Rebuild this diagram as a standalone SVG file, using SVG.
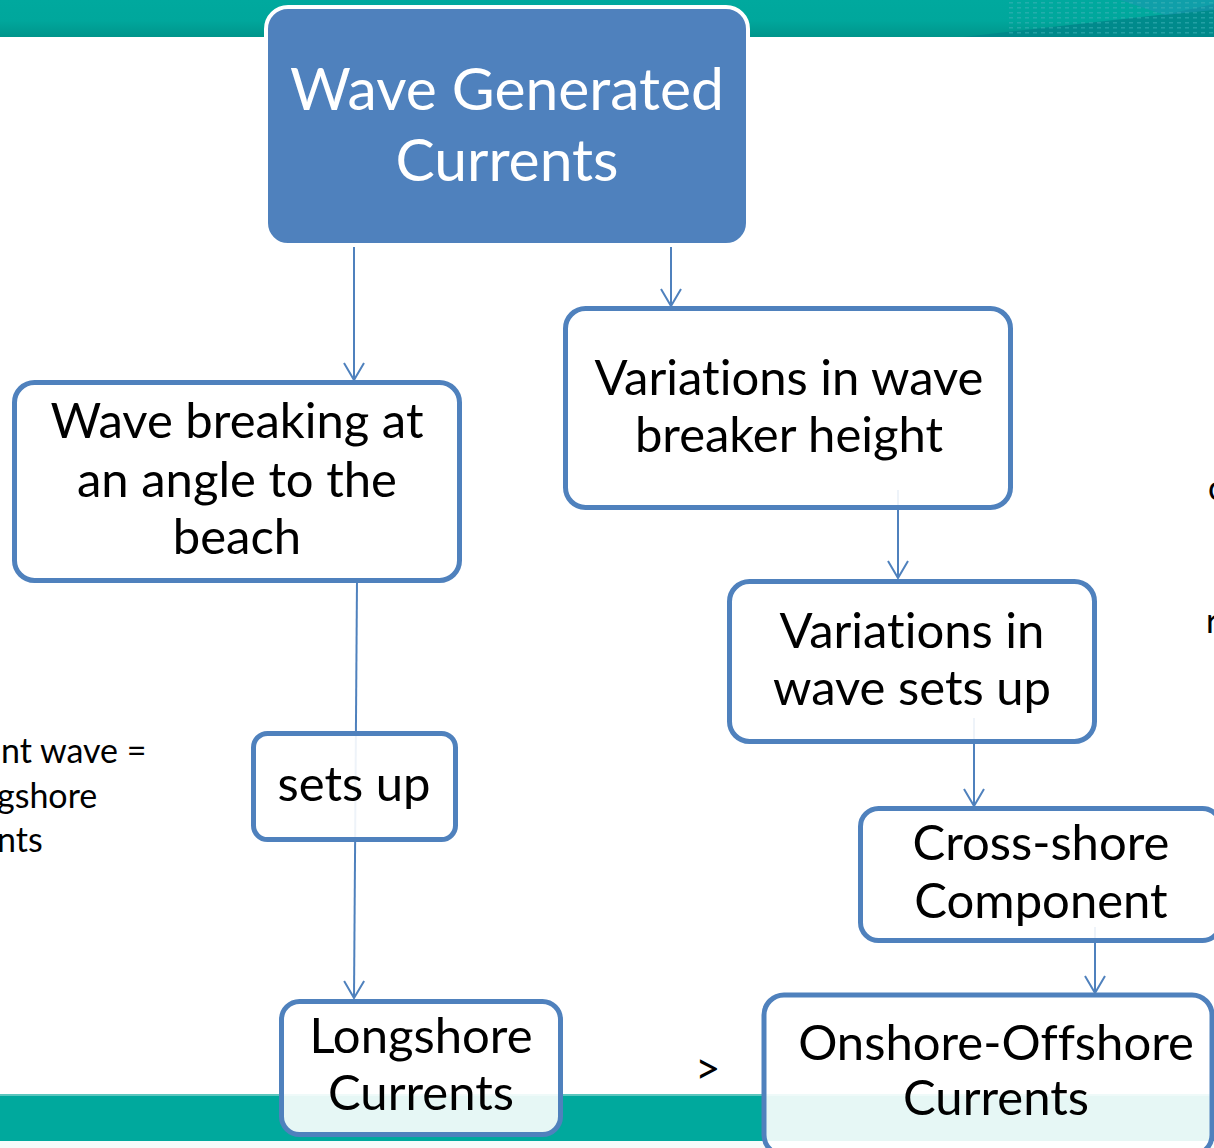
<svg xmlns="http://www.w3.org/2000/svg" width="1214" height="1148" viewBox="0 0 1214 1148">
  <defs>
    <linearGradient id="bandTop" x1="0" y1="0" x2="0" y2="1">
      <stop offset="0" stop-color="#00A99E"/>
      <stop offset="0.55" stop-color="#00A79C"/>
      <stop offset="1" stop-color="#00958B"/>
    </linearGradient>
    <pattern id="dots" width="8" height="5" patternUnits="userSpaceOnUse">
      <rect width="8" height="5" fill="none"/>
      <rect x="1" y="2" width="4" height="1.5" fill="#3FB3B8" opacity="0.55"/>
    </pattern>
    <!-- open V arrowhead, tip at the end of the line -->
    <marker id="arrow" viewBox="0 0 20 24" refX="18" refY="12" markerWidth="20" markerHeight="24" markerUnits="userSpaceOnUse" orient="auto">
      <path d="M1,2 L18,12 L1,22" fill="none" stroke="#4F81BD" stroke-width="2"/>
    </marker>
    <style>
      .node { fill: #FFFFFF; fill-opacity: 0.9; stroke: #4F81BD; stroke-width: 5; }
      .label { font-family: Lato, "Open Sans", "Liberation Sans", sans-serif; font-size: 49px; fill: #000000; text-anchor: middle; font-variant-ligatures: none; }
      .side { font-family: Lato, "Open Sans", "Liberation Sans", sans-serif; font-size: 34px; fill: #000000; font-variant-ligatures: none; }
      .edge { fill: none; stroke: #4F81BD; stroke-width: 2; marker-end: url(#arrow); }
    </style>
  </defs>

  <!-- background -->
  <rect width="1214" height="1148" fill="#FFFFFF"/>

  <!-- header band -->
  <rect x="0" y="0" width="1214" height="37" fill="url(#bandTop)"/>
  <polygon points="963,37 1214,37 1214,4 1168,14" fill="#00868A" opacity="0.85"/>
  <polygon points="1120,0 1214,0 1214,10 1165,15" fill="#1A9AB0" opacity="0.6"/>
  <rect x="1005" y="0" width="209" height="37" fill="url(#dots)"/>

  <!-- footer band -->
  <rect x="0" y="1094" width="1214" height="47" fill="#00A99D"/>
  <rect x="0" y="1094" width="1214" height="2" fill="#5CC6BE"/>
  <rect x="0" y="1141" width="1214" height="7" fill="#F6FBFA"/>

  <!-- side text running off the edges -->
  <text class="side" x="1" y="763">nt wave =</text>
  <text class="side" x="-3" y="808">gshore</text>
  <text class="side" x="-3" y="852">nts</text>
  <text class="side" x="1208" y="500">c</text>
  <text class="side" x="1206" y="633">r</text>
  <text class="side" x="695" y="1084" style="font-size:44px">&gt;</text>

  <!-- connectors -->
  <g id="connectors">
    <line class="edge" x1="354" y1="238" x2="354" y2="380"/>
    <line class="edge" x1="671" y1="220" x2="671" y2="306"/>
    <line class="edge" x1="357" y1="580" x2="354" y2="998"/>
    <line class="edge" x1="898" y1="490" x2="898" y2="578"/>
    <line class="edge" x1="974" y1="718" x2="974" y2="806"/>
    <line class="edge" x1="1095" y1="927" x2="1095" y2="993"/>
  </g>

  <!-- nodes -->
  <g id="node-wave-generated">
    <rect x="266" y="7" width="482" height="238" rx="22" fill="#4F81BD" stroke="#FFFFFF" stroke-width="4"/>
    <text class="label" x="507" y="110" style="font-size:58.8px;fill:#FFFFFF">Wave Generated</text>
    <text class="label" x="507" y="181" style="font-size:58.8px;fill:#FFFFFF">Currents</text>
  </g>

  <g id="node-angle">
    <rect class="node" x="14.5" y="382.5" width="445" height="198" rx="20"/>
    <text class="label" x="237" y="438">Wave breaking at</text>
    <text class="label" x="237" y="497">an angle to the</text>
    <text class="label" x="237" y="554">beach</text>
  </g>

  <g id="node-breaker-height">
    <rect class="node" x="565.5" y="308.5" width="445" height="199" rx="20"/>
    <text class="label" x="789" y="395">Variations in wave</text>
    <text class="label" x="789" y="452">breaker height</text>
  </g>

  <g id="node-variations-setup">
    <rect class="node" x="729.5" y="581.5" width="365" height="160" rx="20"/>
    <text class="label" x="912" y="648">Variations in</text>
    <text class="label" x="912" y="705">wave sets up</text>
  </g>

  <g id="node-sets-up">
    <rect class="node" x="253.5" y="733.5" width="202" height="106" rx="14"/>
    <text class="label" x="354" y="801">sets up</text>
  </g>

  <g id="node-cross-shore">
    <rect class="node" x="860.5" y="808.5" width="360" height="132" rx="18"/>
    <text class="label" x="1041" y="860">Cross-shore</text>
    <text class="label" x="1041" y="918">Component</text>
  </g>

  <g id="node-longshore">
    <rect class="node" x="281.5" y="1001.5" width="279" height="133" rx="18"/>
    <text class="label" x="421" y="1053">Longshore</text>
    <text class="label" x="421" y="1110">Currents</text>
  </g>

  <g id="node-onshore-offshore">
    <rect class="node" x="764" y="995" width="448" height="160" rx="20"/>
    <text class="label" x="996" y="1060">Onshore-Offshore</text>
    <text class="label" x="996" y="1115">Currents</text>
  </g>
</svg>
